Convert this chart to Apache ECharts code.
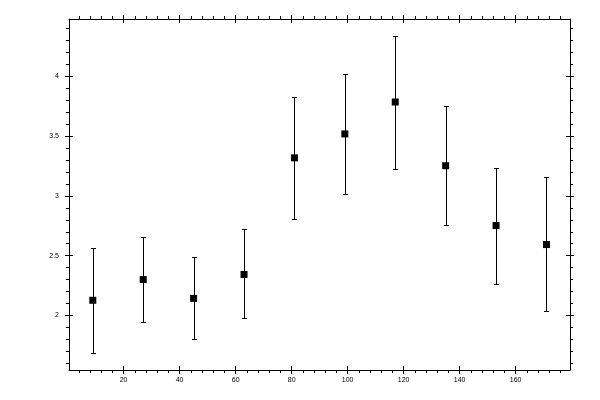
<!DOCTYPE html>
<html>
<head>
<meta charset="utf-8">
<script src="https://cdn.jsdelivr.net/npm/echarts@6/dist/echarts.min.js"></script>
<style>html,body{margin:0;padding:0;background:#fff}#c{width:600px;height:400px}</style>
</head>
<body>
<div id="c"></div>
<script>
// Data
var xValues = [9, 27, 45, 63, 81, 99, 117, 135, 153, 171];
var yValues = [2.127, 2.30, 2.143, 2.343, 3.318, 3.518, 3.785, 3.252, 2.752, 2.593];
var yUpper  = [2.56, 2.66, 2.49, 2.72, 3.823, 4.018, 4.338, 3.752, 3.235, 3.16];
var yLower  = [1.685, 1.943, 1.80, 1.977, 2.81, 3.018, 3.227, 2.76, 2.26, 2.035];
var xMajorTicks = [20, 40, 60, 80, 100, 120, 140, 160];
var xMinorTicks = [4,8,12,16,24,28,32,36,44,48,52,56,64,68,72,76,84,88,92,96,104,108,112,116,124,128,132,136,144,148,152,156,164,168,172,176];
var yMajorTicks = [2, 2.5, 3, 3.5, 4];
var yMinorTicks = [1.6,1.7,1.8,1.9,2.1,2.2,2.3,2.4,2.6,2.7,2.8,2.9,3.1,3.2,3.3,3.4,3.6,3.7,3.8,3.9,4.1,4.2,4.3,4.4];

var X_MIN = 0.5, X_MAX = 179.4, Y_MIN = 1.544, Y_MAX = 4.479;
var FONT = {fontFamily: 'Liberation Sans', fontSize: 7, color: '#000'};

function mkX(pos, opts) {
  return {
    type: 'value', position: pos, min: X_MIN, max: X_MAX,
    splitLine: {show: false},
    axisLine: {show: !!opts.line, onZero: false, lineStyle: {color: '#000', width: 1}},
    axisTick: {show: true, inside: !!opts.inside, length: opts.len, customValues: opts.ticks, lineStyle: {color: '#000', width: 1}},
    axisLabel: opts.labels ? Object.assign({show: true, margin: 7, customValues: xMajorTicks, formatter: function(v){return String(v);}}, FONT) : {show: false}
  };
}
function mkY(pos, opts) {
  return {
    type: 'value', position: pos, min: Y_MIN, max: Y_MAX,
    splitLine: {show: false},
    axisLine: {show: !!opts.line, onZero: false, lineStyle: {color: '#000', width: 1}},
    axisTick: {show: true, inside: !!opts.inside, length: opts.len, customValues: opts.ticks, lineStyle: {color: '#000', width: 1}},
    axisLabel: opts.labels ? Object.assign({show: true, margin: 10, customValues: yMajorTicks, formatter: function(v){return String(v);}}, FONT) : {show: false}
  };
}

var xAxes = [
  mkX('bottom', {line: true, len: 4, ticks: xMajorTicks, labels: true}),
  mkX('bottom', {inside: true, len: 4, ticks: xMajorTicks}),
  mkX('bottom', {len: 3, ticks: xMinorTicks}),
  mkX('top', {line: true, len: 4, ticks: xMajorTicks}),
  mkX('top', {inside: true, len: 4, ticks: xMajorTicks}),
  mkX('top', {len: 3, ticks: xMinorTicks})
];
var yAxes = [
  mkY('left', {line: true, len: 4, ticks: yMajorTicks, labels: true}),
  mkY('left', {inside: true, len: 4, ticks: yMajorTicks}),
  mkY('left', {len: 3, ticks: yMinorTicks}),
  mkY('right', {line: true, len: 4, ticks: yMajorTicks}),
  mkY('right', {inside: true, len: 4, ticks: yMajorTicks}),
  mkY('right', {len: 3, ticks: yMinorTicks})
];

var errData = xValues.map(function(x, i){ return [x, yLower[i], yUpper[i]]; });
var ptData = xValues.map(function(x, i){ return [x, yValues[i]]; });

var chart = echarts.init(document.getElementById('c'), null, {renderer: 'canvas'});
chart.setOption({
  animation: false,
  backgroundColor: '#fff',
  grid: {left: 69, right: 30, top: 19, bottom: 30, containLabel: false},
  xAxis: xAxes,
  yAxis: yAxes,
  series: [
    {
      type: 'custom', xAxisIndex: 0, yAxisIndex: 0, data: errData,
      renderItem: function(params, api) {
        var x = api.value(0);
        var lo = api.coord([x, api.value(1)]);
        var hi = api.coord([x, api.value(2)]);
        // snap to pixel grid for crisp 1px lines
        var px = Math.round(lo[0]) + 0.5;
        var yl = Math.round(lo[1]) + 0.5;
        var yh = Math.round(hi[1]) + 0.5;
        var hw = 2.5;
        var st = {stroke: '#000', lineWidth: 1};
        return {type: 'group', children: [
          {type: 'line', shape: {x1: px, y1: yl, x2: px, y2: yh}, style: st},
          {type: 'line', shape: {x1: px-hw, y1: yh, x2: px+hw, y2: yh}, style: st},
          {type: 'line', shape: {x1: px-hw, y1: yl, x2: px+hw, y2: yl}, style: st}
        ]};
      },
      z: 2
    },
    {
      type: 'scatter', xAxisIndex: 0, yAxisIndex: 0, data: ptData,
      symbol: 'rect', symbolSize: 7,
      itemStyle: {color: '#000', opacity: 1},
      z: 3
    }
  ]
});
</script>
</body>
</html>
